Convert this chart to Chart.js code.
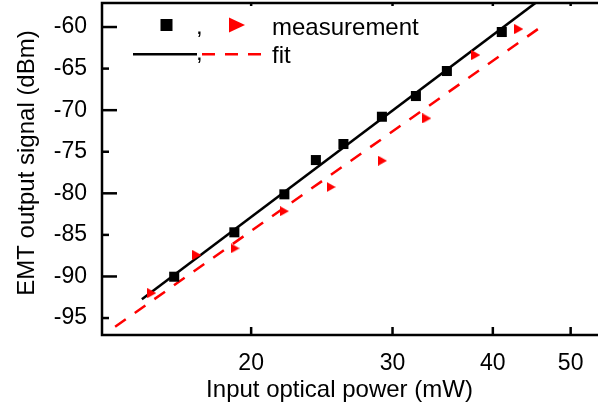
<!DOCTYPE html>
<html>
<head>
<meta charset="utf-8">
<script src="https://cdn.jsdelivr.net/npm/chart.js@4/dist/chart.umd.min.js"></script>
<style>
  html, body { margin: 0; padding: 0; background: #fff; }
  #wrap { width: 598px; height: 408px; position: relative; }
</style>
</head>
<body>
<div id="wrap"><canvas id="c" width="598" height="408"></canvas></div>
<script>
// ---- data ----
const xTickValues = [20, 30, 40, 50];
const yTickValues = [-95, -90, -85, -80, -75, -70, -65, -60];

const squareX = [16.04, 19.06, 22.0, 24.08, 26.06, 29.1, 32.08, 35.06, 41.04];
const squareY = [-90.03, -84.69, -80.12, -76.0, -74.07, -70.79, -68.3, -65.29, -60.6];

const triangleX = [15.04, 17.12, 19.1, 22.0, 25.16, 29.15, 33.1, 38.1, 43.1];
const triangleY = [-92.0, -87.42, -86.62, -82.15, -79.24, -76.08, -70.98, -63.37, -60.24];

const blackFitX = [14.62, 45.2];
const blackFitY = [-92.75, -57.1];
const redFitX = [13.54, 46.4];
const redFitY = [-96.05, -59.68];

const xTitle = 'Input optical power (mW)';
const yTitle = 'EMT output signal (dBm)';
const legendMeasurement = 'measurement';
const legendFit = 'fit';

// ---- helpers ----
const FONT = '"Liberation Sans", Arial, Helvetica, sans-serif';
const zip = (xs, ys) => xs.map((x, i) => ({ x: x, y: ys[i] }));

function triangleCanvas(w, h, color) {
  const c = document.createElement('canvas');
  c.width = w; c.height = h;
  const g = c.getContext('2d');
  g.fillStyle = color;
  g.beginPath();
  g.moveTo(0, 0);
  g.lineTo(w, h / 2);
  g.lineTo(0, h);
  g.closePath();
  g.fill();
  return c;
}
const triImg = triangleCanvas(9, 10, '#ff0000');

function noPad(s) { s.paddingTop = 0; s.paddingBottom = 0; s.paddingLeft = 0; s.paddingRight = 0; }

const framePlugin = {
  id: 'frame',
  afterDatasetsDraw(chart) {
    const ctx = chart.ctx;
    const a = chart.chartArea;
    const xs = chart.scales.x, ys = chart.scales.y;
    ctx.save();
    ctx.strokeStyle = '#000';
    ctx.lineWidth = 2.5;
    ctx.lineCap = 'butt';
    ctx.beginPath();
    ctx.moveTo(a.left, a.top - 1);
    ctx.lineTo(a.left, a.bottom + 1.25);
    ctx.moveTo(a.left - 1.25, a.bottom);
    ctx.lineTo(a.right + 2, a.bottom);
    ctx.moveTo(a.left - 1.25, a.top);
    ctx.lineTo(a.right + 2, a.top);
    ctx.stroke();
    yTickValues.forEach(v => {
      const y = ys.getPixelForValue(v);
      const len = (v % 10 === 0) ? 15 : 7;
      ctx.beginPath();
      ctx.moveTo(a.left, y);
      ctx.lineTo(a.left + len, y);
      ctx.stroke();
    });
    xTickValues.forEach(v => {
      const x = xs.getPixelForValue(v);
      ctx.beginPath();
      ctx.moveTo(x, a.bottom);
      ctx.lineTo(x, a.bottom - 8);
      ctx.moveTo(x, a.top);
      ctx.lineTo(x, a.top + 3);
      ctx.stroke();
    });
    ctx.restore();
  },
  afterDraw(chart) {
    const ctx = chart.ctx;
    ctx.save();
    // axis titles
    ctx.fillStyle = '#000';
    ctx.font = '24px ' + FONT;
    ctx.textAlign = 'center';
    ctx.textBaseline = 'alphabetic';
    ctx.fillText(xTitle, 339.5, 397);
    ctx.save();
    ctx.translate(33.5, 163);
    ctx.rotate(-Math.PI / 2);
    ctx.fillText(yTitle, 0, 0);
    ctx.restore();
    // legend
    ctx.textAlign = 'left';
    ctx.fillRect(160.5, 19, 12, 12);
    ctx.fillText(',', 196, 34);
    ctx.fillStyle = '#ff0000';
    ctx.beginPath();
    ctx.moveTo(229, 17.5);
    ctx.lineTo(245, 25);
    ctx.lineTo(229, 32.5);
    ctx.closePath();
    ctx.fill();
    ctx.fillStyle = '#000';
    ctx.fillText(legendMeasurement, 272, 34.5);
    ctx.strokeStyle = '#000';
    ctx.lineWidth = 2.5;
    ctx.beginPath();
    ctx.moveTo(133, 54.3);
    ctx.lineTo(197, 54.3);
    ctx.stroke();
    ctx.fillText(',', 196, 59.5);
    ctx.strokeStyle = '#ff0000';
    ctx.setLineDash([13, 10]);
    ctx.beginPath();
    ctx.moveTo(202, 54.3);
    ctx.lineTo(261, 54.3);
    ctx.stroke();
    ctx.setLineDash([]);
    ctx.fillText(legendFit, 272, 63);
    ctx.restore();
  }
};

new Chart(document.getElementById('c'), {
  type: 'scatter',
  data: {
    datasets: [
      {
        type: 'line',
        data: zip(redFitX, redFitY),
        borderColor: '#ff0000',
        borderWidth: 2.5,
        borderDash: [13, 11],
        pointRadius: 0,
        fill: false,
        order: 3
      },
      {
        type: 'line',
        data: zip(blackFitX, blackFitY),
        borderColor: '#000000',
        borderWidth: 2.5,
        pointRadius: 0,
        fill: false,
        order: 2
      },
      {
        data: zip(triangleX, triangleY),
        pointStyle: triImg,
        pointRadius: 5,
        backgroundColor: '#ff0000',
        borderWidth: 0,
        order: 1
      },
      {
        data: zip(squareX, squareY),
        pointStyle: 'rect',
        pointRadius: 7.1,
        backgroundColor: '#000000',
        borderWidth: 0,
        order: 0
      }
    ]
  },
  options: {
    responsive: false,
    animation: false,
    devicePixelRatio: 1,
    layout: { autoPadding: false, padding: { top: 3, right: 0, bottom: 0, left: 0 } },
    plugins: {
      legend: { display: false },
      tooltip: { enabled: false }
    },
    scales: {
      x: {
        type: 'logarithmic',
        min: 13.04,
        max: 54.08,
        afterBuildTicks: s => { s.ticks = xTickValues.map(v => ({ value: v })); },
        afterFit: s => { s.height = 73; noPad(s); },
        grid: { display: false, drawTicks: false },
        border: { display: false },
        ticks: {
          color: '#000',
          font: { family: FONT, size: 23 },
          padding: 15,
          maxRotation: 0,
          autoSkip: false,
          callback: v => String(v)
        },
        title: { display: false }
      },
      y: {
        type: 'linear',
        min: -97.04,
        max: -57.11,
        afterBuildTicks: s => { s.ticks = yTickValues.map(v => ({ value: v })); },
        afterFit: s => { s.width = 102; noPad(s); },
        grid: { display: false, drawTicks: false },
        border: { display: false },
        ticks: {
          color: '#000',
          font: { family: FONT, size: 23 },
          padding: 15,
          autoSkip: false,
          callback: v => String(v)
        },
        title: { display: false }
      }
    }
  },
  plugins: [framePlugin]
});
</script>
</body>
</html>
